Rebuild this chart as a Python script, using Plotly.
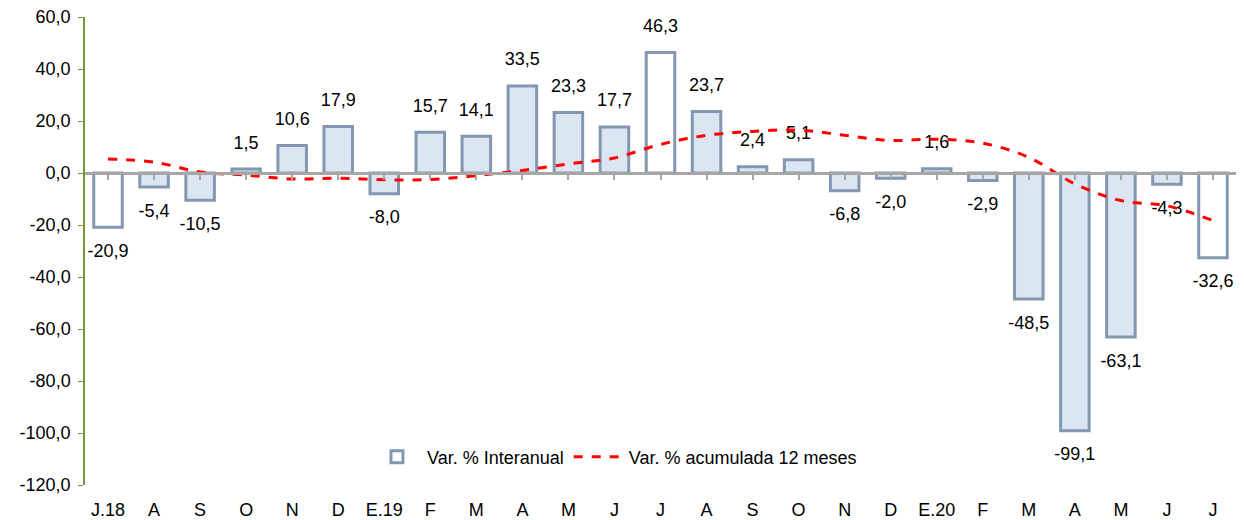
import plotly.graph_objects as go

months = ["J.18", "A", "S", "O", "N", "D", "E.19", "F", "M", "A", "M", "J",
          "J", "A", "S", "O", "N", "D", "E.20", "F", "M", "A", "M", "J", "J"]
interanual = [-20.9, -5.4, -10.5, 1.5, 10.6, 17.9, -8.0, 15.7, 14.1, 33.5, 23.3, 17.7,
              46.3, 23.7, 2.4, 5.1, -6.8, -2.0, 1.6, -2.9, -48.5, -99.1, -63.1, -4.3, -32.6]
acumulada = [5.4, 4.2, 0.4, -0.8, -2.3, -2.0, -2.6, -2.5, -1.0, 1.0, 3.5, 5.8,
             11.0, 14.5, 16.0, 16.5, 14.5, 12.5, 13.0, 11.5, 6.0, -4.2, -10.6, -12.6, -18.3]
y_ticks = [-120, -100, -80, -60, -40, -20, 0, 20, 40, 60]


def es(v):
    # spanish style number, plain hyphen for negatives
    return f"{v:.1f}".replace(".", ",")


# index positions so all traces share a numeric axis
xs = list(range(len(months)))

# July bars are drawn hollow (white), the rest light blue
bar_colors = ["#FFFFFF" if i % 12 == 0 else "#DCE6F2" for i in xs]
label_pos = ["top center" if v >= 0 else "bottom center" for v in interanual]

FONT = "Liberation Sans, Arial, sans-serif"
FS = 18

fig = go.Figure()
fig.add_trace(go.Bar(
    x=xs, y=interanual, name="Var. % Interanual",
    marker=dict(color=bar_colors, line=dict(color="#8497B0", width=3)),
    width=0.62, hoverinfo="y",
))
# data labels, pushed away from the bar end with an invisible marker
fig.add_trace(go.Scatter(
    x=xs, y=interanual, mode="markers+text", text=[es(v) for v in interanual],
    textposition=label_pos, textfont=dict(size=FS, color="#000000"),
    marker=dict(size=24, opacity=0), showlegend=False, hoverinfo="skip", cliponaxis=False,
))
fig.add_trace(go.Scatter(
    x=xs, y=acumulada, name="Var. % acumulada 12 meses", mode="lines",
    line=dict(color="#FF0000", width=3, dash="dash", shape="spline", smoothing=1.0),
))
# dummy trace so the zero-line axis with its ticks can be drawn
fig.add_trace(go.Scatter(x=[xs[0]], y=[0], xaxis="x2", yaxis="y", mode="markers",
                         marker=dict(opacity=0), showlegend=False, hoverinfo="skip"))

fig.update_layout(
    width=1244, height=520,
    margin=dict(l=77, r=16, t=9, b=43),
    paper_bgcolor="white", plot_bgcolor="white",
    font=dict(family=FONT, size=FS, color="#000000"),
    showlegend=True,
    legend=dict(orientation="h", x=0.46, y=0.02, xanchor="center", yanchor="bottom",
                font=dict(size=FS), bgcolor="rgba(0,0,0,0)", traceorder="normal",
                itemwidth=50),
    xaxis=dict(
        range=[-0.5, len(months) - 0.5], automargin=False,
        tickmode="array", tickvals=xs, ticktext=months,
        showgrid=False, zeroline=False, showline=False,
        ticks="outside", ticklen=8, tickcolor="rgba(0,0,0,0)",
        tickfont=dict(size=FS),
    ),
    xaxis2=dict(
        overlaying="x", anchor="free", position=2 / 3, automargin=False,
        range=[-0.5, len(months) - 0.5],
        tickmode="array", tickvals=xs, ticks="outside", ticklen=5,
        tickcolor="#A6A6A6", tickwidth=1.5, tickson="boundaries",
        showticklabels=False, showline=True, linecolor="#A6A6A6", linewidth=2.5,
        showgrid=False, zeroline=False,
    ),
    yaxis=dict(
        range=[-120, 60], automargin=False,
        tickmode="array", tickvals=y_ticks, ticktext=[es(v) for v in y_ticks],
        ticklabeloverflow="allow", ticklabelstandoff=4,
        showgrid=False, zeroline=False,
        showline=True, linecolor="#77933C", linewidth=1.5,
        ticks="outside", ticklen=5, tickcolor="#77933C",
        tickfont=dict(size=FS),
    ),
)

fig.write_html("out.html")
